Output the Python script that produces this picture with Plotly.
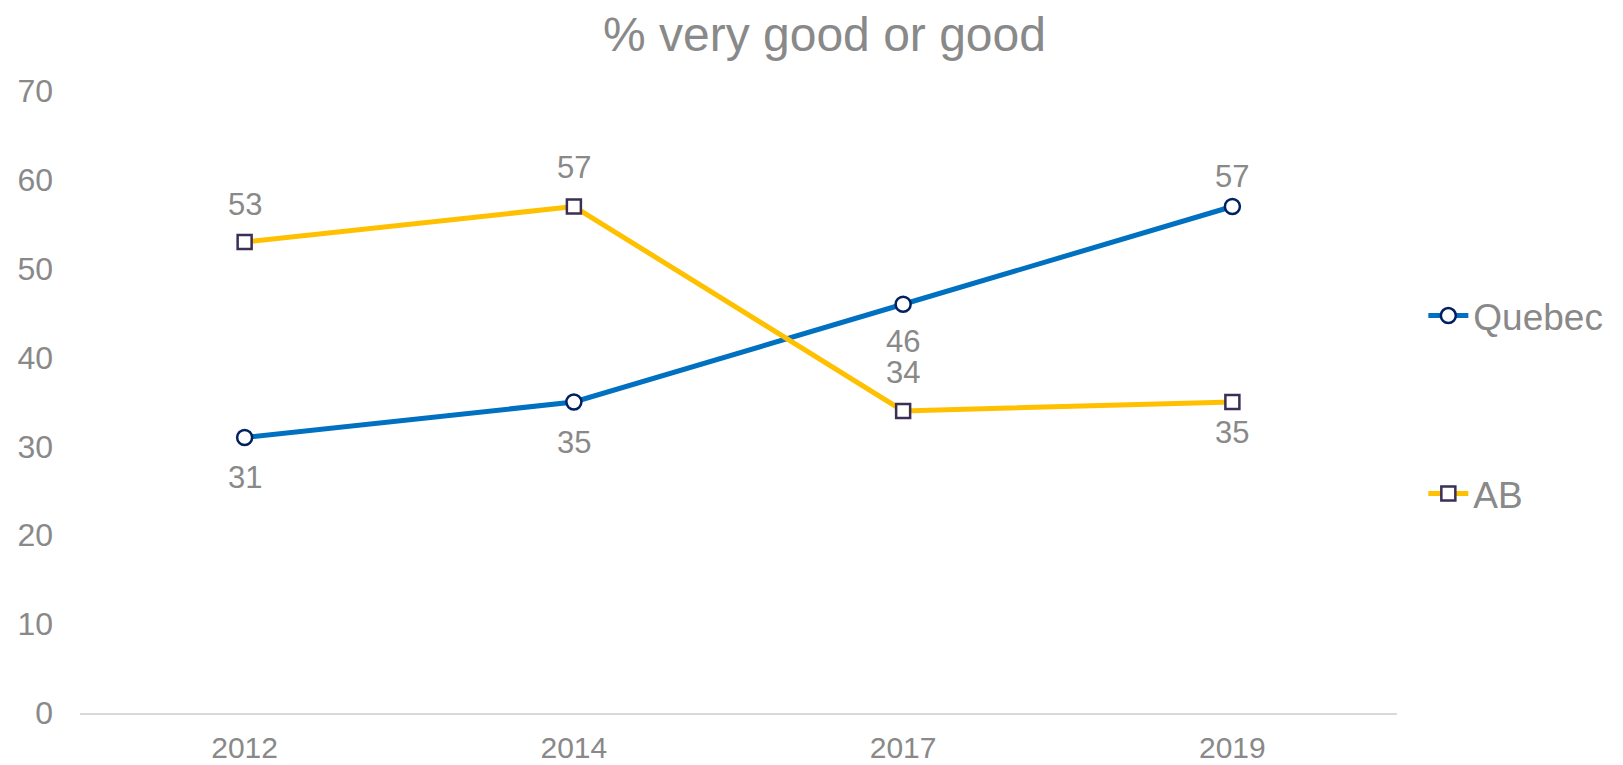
import plotly.graph_objects as go

# Survey years and share answering "very good or good"
years = ["2012", "2014", "2017", "2019"]
quebec = [31, 35, 46, 57]
ab = [53, 57, 34, 35]

# Vertical offset (px) of each value label from its point; negative is below
quebec_label_shift = [-40, -40, -37, 30]
ab_label_shift = [38, 39, 38, -30]

FONT = "Liberation Sans, Arial, sans-serif"
GREY = "#898989"

fig = go.Figure()

fig.add_trace(go.Scatter(
    x=years, y=quebec, name="Quebec", mode="lines+markers",
    line=dict(color="#0070C0", width=5),
    marker=dict(symbol="circle", size=15, color="white",
                line=dict(color="#002060", width=2.5)),
    legend="legend", showlegend=True, cliponaxis=False,
))

fig.add_trace(go.Scatter(
    x=years, y=ab, name="AB", mode="lines+markers",
    line=dict(color="#FFC000", width=5),
    marker=dict(symbol="square", size=14, color="white",
                line=dict(color="#3B2F55", width=2.5)),
    legend="legend2", showlegend=True, cliponaxis=False,
))

# Value labels placed above or below each point
# (category axis: annotations are positioned by category index)
for values, shifts in ((quebec, quebec_label_shift), (ab, ab_label_shift)):
    for i, (v, s) in enumerate(zip(values, shifts)):
        fig.add_annotation(
            x=i, y=v, text=str(v), showarrow=False, yshift=s,
            xanchor="center", yanchor="middle",
            font=dict(family=FONT, size=31, color=GREY),
        )

legend_style = dict(
    xref="paper", yref="paper", xanchor="left", yanchor="middle",
    font=dict(family=FONT, size=37, color=GREY),
    bgcolor="rgba(0,0,0,0)", itemwidth=40,
)

fig.update_layout(
    width=1623, height=765,
    margin=dict(l=80, r=226, t=91, b=52),
    paper_bgcolor="white", plot_bgcolor="white",
    showlegend=True,
    title=dict(text="% very good or good", x=0.508, xref="container",
               xanchor="center", y=1 - 34 / 765, yanchor="middle",
               font=dict(family=FONT, size=48, color=GREY)),
    font=dict(family=FONT, color=GREY),
    xaxis=dict(type="category", range=[-0.5, 3.5], showgrid=False,
               showline=True, linecolor="#D9D9D9", linewidth=2,
               ticks="", tickfont=dict(family=FONT, size=30, color=GREY),
               ticklabelstandoff=7, zeroline=False, automargin=False),
    yaxis=dict(range=[0, 70], dtick=10, showgrid=False, showline=False,
               zeroline=False, ticks="", automargin=False,
               tickfont=dict(family=FONT, size=32, color=GREY),
               ticklabelstandoff=26),
    legend=dict(x=1.02, y=1 - (316 - 91) / (713 - 91), **legend_style),
    legend2=dict(x=1.02, y=1 - (494 - 91) / (713 - 91), **legend_style),
)

fig.write_html("out.html")
